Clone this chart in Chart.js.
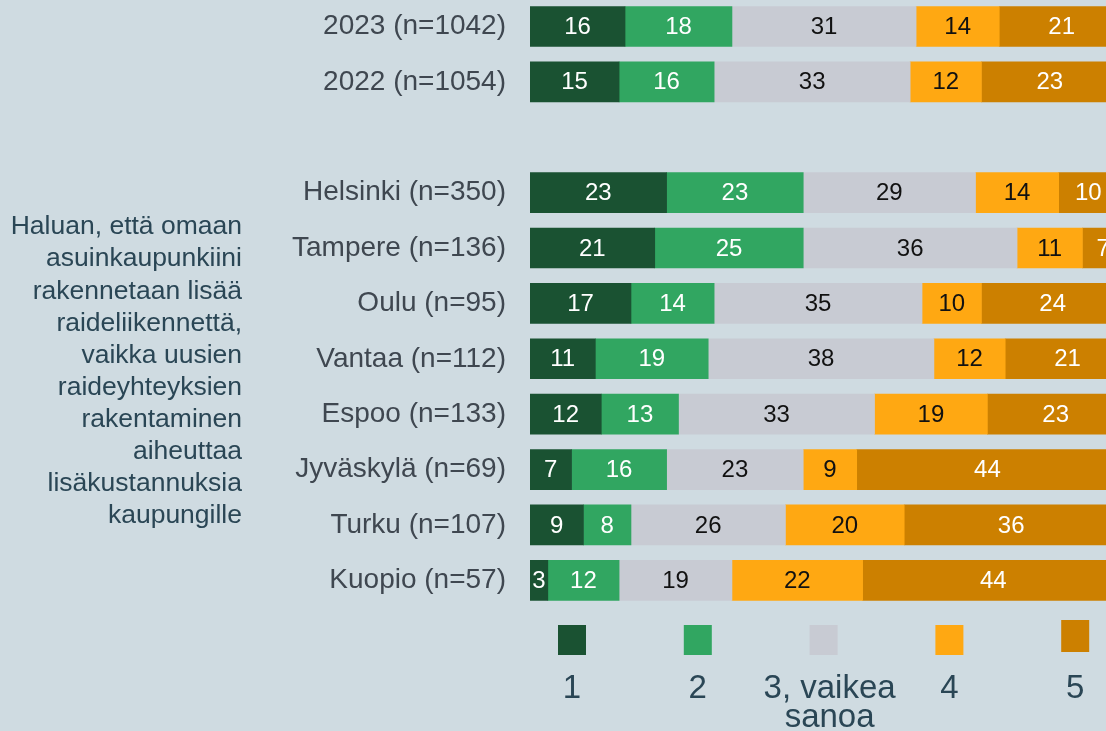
<!DOCTYPE html>
<html>
<head>
<meta charset="utf-8">
<script src="https://cdn.jsdelivr.net/npm/chart.js@4/dist/chart.umd.min.js"></script>
<style>
  html, body { margin: 0; padding: 0; overflow: hidden; background: #cfdbe1; }
  #wrap { position: absolute; left: 0; top: -18px; width: 1130px; height: 760px; }
</style>
</head>
<body>
<div id="wrap"><canvas id="chart"></canvas></div>
<script>
// --- data ---
const categories = ['2023 (n=1042)', '2022 (n=1054)', '', 'Helsinki (n=350)', 'Tampere (n=136)',
  'Oulu (n=95)', 'Vantaa (n=112)', 'Espoo (n=133)', 'Jyväskylä (n=69)', 'Turku (n=107)', 'Kuopio (n=57)'];
const seriesNames = ['1', '2', '3, vaikea\nsanoa', '4', '5'];
const s1 = [16, 15, null, 23, 21, 17, 11, 12, 7, 9, 3];
const s2 = [18, 16, null, 23, 25, 14, 19, 13, 16, 8, 12];
const s3 = [31, 33, null, 29, 36, 35, 38, 33, 23, 26, 19];
const s4 = [14, 12, null, 14, 11, 10, 12, 19, 9, 20, 22];
const s5 = [21, 23, null, 10, 7, 24, 21, 23, 44, 36, 44];
const groupLabel = ['Haluan, että omaan', 'asuinkaupunkiini', 'rakennetaan lisää', 'raideliikennettä,',
  'vaikka uusien', 'raideyhteyksien', 'rakentaminen', 'aiheuttaa', 'lisäkustannuksia', 'kaupungille'];

const colors = ['#1a5232', '#31a661', '#c8cbd3', '#ffa812', '#cc8000'];
const labelColors = ['#ffffff', '#ffffff', '#111111', '#111111', '#ffffff'];
const font = '"Liberation Sans", Arial, sans-serif';
const OFF = 18; // canvas is shifted up by this much

// value labels inside bar segments
const valueLabels = {
  id: 'valueLabels',
  afterDatasetsDraw(chart) {
    const ctx = chart.ctx;
    ctx.save();
    ctx.font = `24px ${font}`;
    ctx.textAlign = 'center';
    ctx.textBaseline = 'middle';
    chart.data.datasets.forEach((ds, di) => {
      const meta = chart.getDatasetMeta(di);
      meta.data.forEach((bar, i) => {
        const v = ds.data[i];
        if (v == null) return;
        const cx = (bar.x + bar.base) / 2;
        ctx.fillStyle = labelColors[di];
        ctx.fillText(String(v), cx, bar.y + 1);
      });
    });
    ctx.restore();
  }
};

// left group label + custom legend
const extras = {
  id: 'extras',
  afterDraw(chart) {
    const ctx = chart.ctx;
    ctx.save();
    // group label
    ctx.font = `26.5px ${font}`;
    ctx.fillStyle = '#2a4655';
    ctx.textAlign = 'right';
    ctx.textBaseline = 'middle';
    groupLabel.forEach((line, i) => {
      ctx.fillText(line, 242, OFF + 227 + i * 32.1);
    });

    // legend
    seriesNames.forEach((name, i) => {
      const cx = 572 + i * 125.8;
      const top = i === 4 ? 620 : 625;
      ctx.fillStyle = colors[i];
      ctx.fillRect(cx - 14, OFF + top, 28, i === 4 ? 32 : 30);
      ctx.fillStyle = '#2a4655';
      ctx.font = `33px ${font}`;
      ctx.textAlign = 'center';
      ctx.textBaseline = 'middle';
      name.split('\n').forEach((ln, k) => {
        ctx.fillText(ln, cx + (name.includes('\n') ? 6 : 0), OFF + 689 + k * 29);
      });
    });
    ctx.restore();
  }
};

new Chart(document.getElementById('chart'), {
  type: 'bar',
  data: {
    labels: categories,
    datasets: [s1, s2, s3, s4, s5].map((d, i) => ({
      label: seriesNames[i],
      data: d,
      backgroundColor: colors[i],
      borderWidth: 0,
      barThickness: 40,
    })),
  },
  options: {
    indexAxis: 'y',
    responsive: true,
    maintainAspectRatio: false,
    animation: false,
    layout: { padding: { top: 16, right: 6, bottom: 134, left: 0 } },
    plugins: {
      legend: { display: false },
      tooltip: { enabled: false },
    },
    scales: {
      x: {
        stacked: true,
        min: 0,
        max: 100,
        display: false,
      },
      y: {
        stacked: true,
        grid: { display: true, drawOnChartArea: false, drawTicks: true, tickLength: 24, color: 'rgba(0,0,0,0)' },
        border: { display: false },
        ticks: {
          padding: 0,
          color: '#3f4750',
          font: { size: 28, family: font },
        },
        afterFit(scale) { scale.width = 530; },
      },
    },
  },
  plugins: [valueLabels, extras],
});
</script>
</body>
</html>
